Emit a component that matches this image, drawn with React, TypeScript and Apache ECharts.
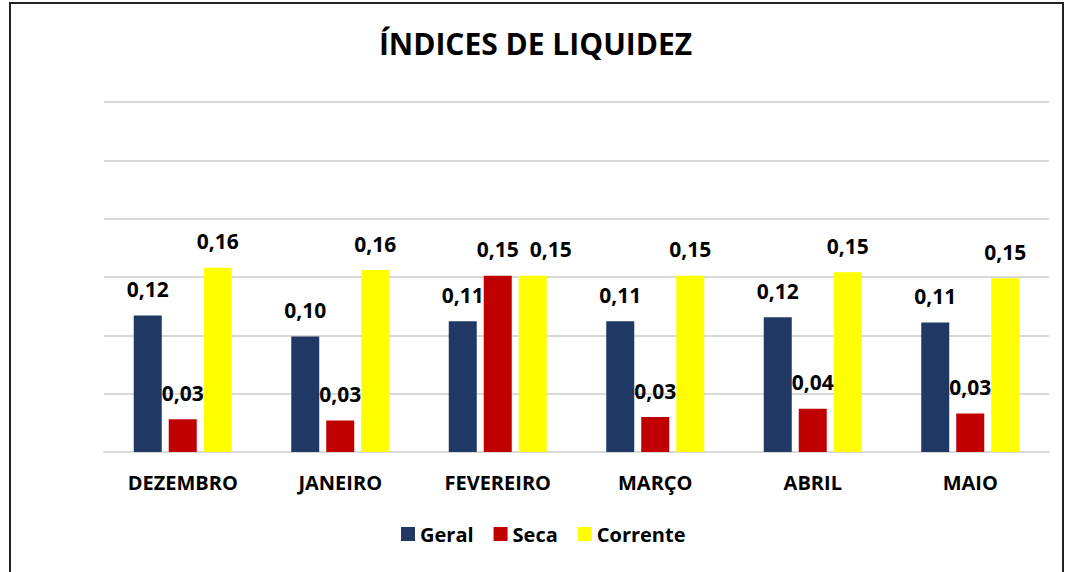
import React, { useEffect, useRef } from "react";
import * as echarts from "echarts";

const categories = ["DEZEMBRO", "JANEIRO", "FEVEREIRO", "MARÇO", "ABRIL", "MAIO"];
const geral = [0.117, 0.099, 0.112, 0.112, 0.1155, 0.111];
const seca = [0.028, 0.027, 0.151, 0.030, 0.037, 0.033];
const corrente = [0.158, 0.156, 0.151, 0.151, 0.154, 0.149];

const FONT = "Open Sans";

const fmt = (p: any) => Number(p.value).toFixed(2).replace(".", ",");

export default function App() {
  const ref = useRef<HTMLDivElement>(null);
  useEffect(() => {
    if (!ref.current) return;
    const chart = echarts.init(ref.current, undefined, { renderer: "svg" });
    const labelCfg = {
      show: true,
      position: "top",
      distance: 16,
      formatter: fmt,
      fontFamily: FONT,
      fontWeight: "bold",
      fontSize: 21,
      color: "#000",
    };
    // Excel nudges a label sideways when it would collide with its neighbour
    const withNudge = (data: number[], other: number[]) =>
      data.map((v, i) =>
        Math.abs(v - other[i]) < 0.005 ? { value: v, label: { offset: [18, 0] } } : v
      );
    const mk = (name: string, data: any[], color: string) => ({
      name,
      type: "bar",
      data,
      barWidth: 28,
      barGap: "25%",
      itemStyle: { color },
      label: labelCfg,
    });
    chart.setOption({
      animation: false,
      backgroundColor: "#fff",
      textStyle: { fontFamily: FONT },
      title: {
        text: "ÍNDICES DE LIQUIDEZ",
        left: "center",
        top: 23,
        textStyle: { fontFamily: FONT, fontWeight: "bold", fontSize: 30, color: "#000" },
      },
      graphic: [
        {
          type: "rect",
          shape: { x: 10, y: 3, width: 1053, height: 600 },
          style: { fill: "none", stroke: "#222", lineWidth: 2 },
          silent: true,
        },
      ],
      legend: {
        left: 396,
        top: 519,
        itemWidth: 14,
        itemHeight: 14,
        itemGap: 20,
        icon: "rect",
        textStyle: { fontFamily: FONT, fontWeight: "bold", fontSize: 20, color: "#000" },
        data: ["Geral", "Seca", "Corrente"],
      },
      grid: { left: 104, right: 22, top: 102, bottom: 120, containLabel: false },
      xAxis: {
        type: "category",
        data: categories,
        axisLine: { lineStyle: { color: "#D9D9D9", width: 2 } },
        axisTick: { show: false },
        axisLabel: {
          margin: 20,
          fontFamily: FONT,
          fontWeight: "bold",
          fontSize: 20,
          color: "#000",
          interval: 0,
        },
      },
      yAxis: {
        type: "value",
        min: 0,
        max: 0.3,
        interval: 0.05,
        axisLabel: { show: false },
        axisLine: { show: false },
        axisTick: { show: false },
        splitLine: { lineStyle: { color: "#D9D9D9", width: 2 } },
      },
      series: [
        mk("Geral", geral, "#203864"),
        mk("Seca", seca, "#C00000"),
        mk("Corrente", withNudge(corrente, seca), "#FFFF00"),
      ],
    });
    return () => chart.dispose();
  }, []);
  return (
    <div
      ref={ref}
      style={{ position: "fixed", left: 0, top: 0, width: 1071, height: 572 }}
    />
  );
}
